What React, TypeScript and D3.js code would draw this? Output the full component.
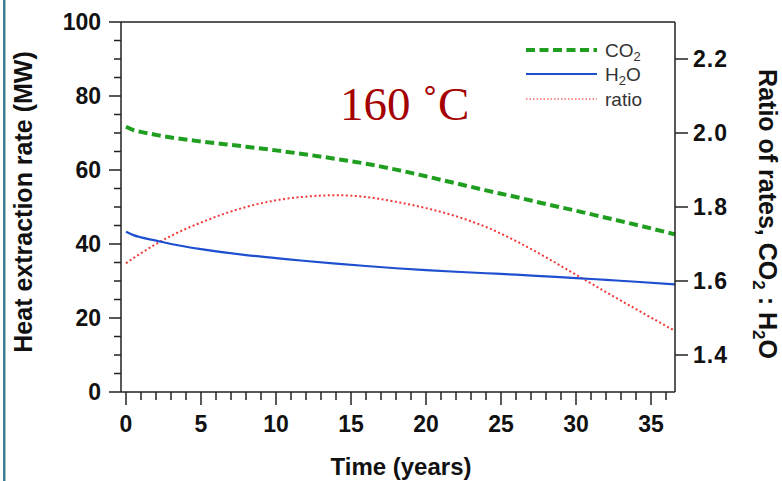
import React from "react";
import * as d3 from "d3";

const years = [0, 0.5, 1, 2, 3, 5, 8, 10, 12, 14, 16, 18, 20, 22, 24, 26, 28, 30, 32, 34, 36.6];
const co2 = [71.7, 70.8, 70.3, 69.5, 68.8, 67.7, 66.3, 65.3, 64.2, 63.0, 61.7, 60.1, 58.3, 56.4, 54.5, 52.7, 50.8, 49.0, 47.1, 45.2, 42.6];
const h2o = [43.3, 42.4, 41.8, 40.9, 40.0, 38.6, 37.0, 36.2, 35.4, 34.7, 34.05, 33.45, 32.95, 32.5, 32.1, 31.7, 31.25, 30.8, 30.3, 29.8, 29.1];
const ratio = [1.648, 1.662, 1.675, 1.7, 1.722, 1.758, 1.8, 1.818, 1.828, 1.832, 1.827, 1.814, 1.797, 1.775, 1.746, 1.708, 1.664, 1.617, 1.57, 1.524, 1.465];

const xMajorTicks = [0, 5, 10, 15, 20, 25, 30, 35];
const xMinorTicks = d3.range(0, 37, 1);
const yLeftMajor = [0, 20, 40, 60, 80, 100];
const yLeftMinor = d3.range(0, 101, 5);
const yRightTicks = [1.4, 1.6, 1.8, 2.0, 2.2];

const FONT = "'Liberation Sans', Arial, Helvetica, sans-serif";

export default function App() {
  const left = 121, right = 675, top = 22, bottom = 392;
  const x = d3.scaleLinear().domain([-1 / 3, 36.6]).range([left, right]);
  const yL = d3.scaleLinear().domain([0, 100]).range([bottom, top]);
  const yR = d3.scaleLinear().domain([1.3, 2.3]).range([bottom, top]);

  const lineL = d3.line<number>().x((_, i) => x(years[i])).y((d) => yL(d)).curve(d3.curveMonotoneX);
  const lineR = d3.line<number>().x((_, i) => x(years[i])).y((d) => yR(d)).curve(d3.curveMonotoneX);

  const green = "#1f9e1f";
  const blue = "#1d4fcf";
  const red = "#f23a3a";

  return (
    <svg width={782} height={481} style={{ position: "absolute", left: 0, top: 0, background: "#fff" }}>
      <rect x={0} y={0} width={782} height={481} fill="#fff" />
      <rect x={3} y={0} width={2.5} height={481} fill="#3f7f95" />

      {/* data lines */}
      <path d={lineR(ratio) || ""} fill="none" stroke={red} strokeWidth={2} strokeDasharray="2 2.5" />
      <path d={lineL(h2o) || ""} fill="none" stroke={blue} strokeWidth={2.2} />
      <path d={lineL(co2) || ""} fill="none" stroke={green} strokeWidth={4} strokeDasharray="9 4.5" />

      {/* frame */}
      <line x1={left} x2={right} y1={top} y2={top} stroke="#222" strokeWidth={1.5} />
      <line x1={left} x2={left} y1={top} y2={bottom} stroke="#222" strokeWidth={1.5} />
      <line x1={right} x2={right} y1={top} y2={bottom} stroke="#222" strokeWidth={1.5} />
      <line x1={left} x2={right} y1={bottom} y2={bottom} stroke="#222" strokeWidth={1.5} />

      {/* x ticks */}
      {xMinorTicks.map((t) => (
        <line key={"xm" + t} x1={x(t)} x2={x(t)} y1={bottom} y2={bottom + (t % 5 === 0 ? 13 : 8)} stroke="#222" strokeWidth={1.5} />
      ))}
      {xMajorTicks.map((t) => (
        <text key={"xl" + t} x={x(t)} y={432} textAnchor="middle" fontFamily={FONT} fontWeight="bold" fontSize={23} fill="#111">
          {t}
        </text>
      ))}

      {/* left y ticks */}
      {yLeftMinor.map((v) => (
        <line key={"ym" + v} x1={left - (v % 20 === 0 ? 12 : 7)} x2={left} y1={yL(v)} y2={yL(v)} stroke="#222" strokeWidth={1.5} />
      ))}
      {yLeftMajor.map((v) => (
        <text key={"yl" + v} x={101} y={yL(v) + 8} textAnchor="end" fontFamily={FONT} fontWeight="bold" fontSize={23} fill="#111">
          {v}
        </text>
      ))}

      {/* right y ticks */}
      {yRightTicks.map((v) => (
        <g key={"yr" + v}>
          <line x1={right} x2={right + 13} y1={yR(v)} y2={yR(v)} stroke="#222" strokeWidth={1.5} />
          <text x={693} y={yR(v) + 8} fontFamily={FONT} fontWeight="bold" fontSize={23} fill="#111" letterSpacing={1}>
            {v.toFixed(1)}
          </text>
        </g>
      ))}

      {/* axis titles */}
      <text x={401} y={475} textAnchor="middle" fontFamily={FONT} fontWeight="bold" fontSize={24} fill="#111">
        Time (years)
      </text>
      <text transform="translate(32,202) rotate(-90)" textAnchor="middle" fontFamily={FONT} fontWeight="bold" fontSize={25} fill="#111">
        Heat extraction rate (MW)
      </text>
      <text transform="translate(759,214) rotate(90)" textAnchor="middle" fontFamily={FONT} fontWeight="bold" fontSize={25} fill="#111">
        Ratio of rates, CO<tspan fontSize={17} dy={6}>2</tspan>
        <tspan dy={-6}> : H</tspan>
        <tspan fontSize={17} dy={6}>2</tspan>
        <tspan dy={-6}>O</tspan>
      </text>

      {/* annotation */}
      <text x={340} y={120} fontFamily="'Liberation Serif', 'Times New Roman', serif" fontSize={47} fill="#a50000">
        160 ˚C
      </text>

      {/* legend */}
      <line x1={526} x2={597} y1={50} y2={50} stroke={green} strokeWidth={4} strokeDasharray="9 4.5" />
      <line x1={526} x2={597} y1={74} y2={74} stroke={blue} strokeWidth={2} />
      <line x1={526} x2={597} y1={99} y2={99} stroke={red} strokeWidth={1.6} strokeDasharray="1.5 2" opacity={0.75} />
      <text x={605} y={57} fontFamily={FONT} fontSize={19} fill="#333">
        CO<tspan fontSize={13} dy={4}>2</tspan>
      </text>
      <text x={605} y={81} fontFamily={FONT} fontSize={19} fill="#333">
        H<tspan fontSize={13} dy={4}>2</tspan>
        <tspan dy={-4}>O</tspan>
      </text>
      <text x={605} y={106} fontFamily={FONT} fontSize={19} fill="#333">
        ratio
      </text>
    </svg>
  );
}
